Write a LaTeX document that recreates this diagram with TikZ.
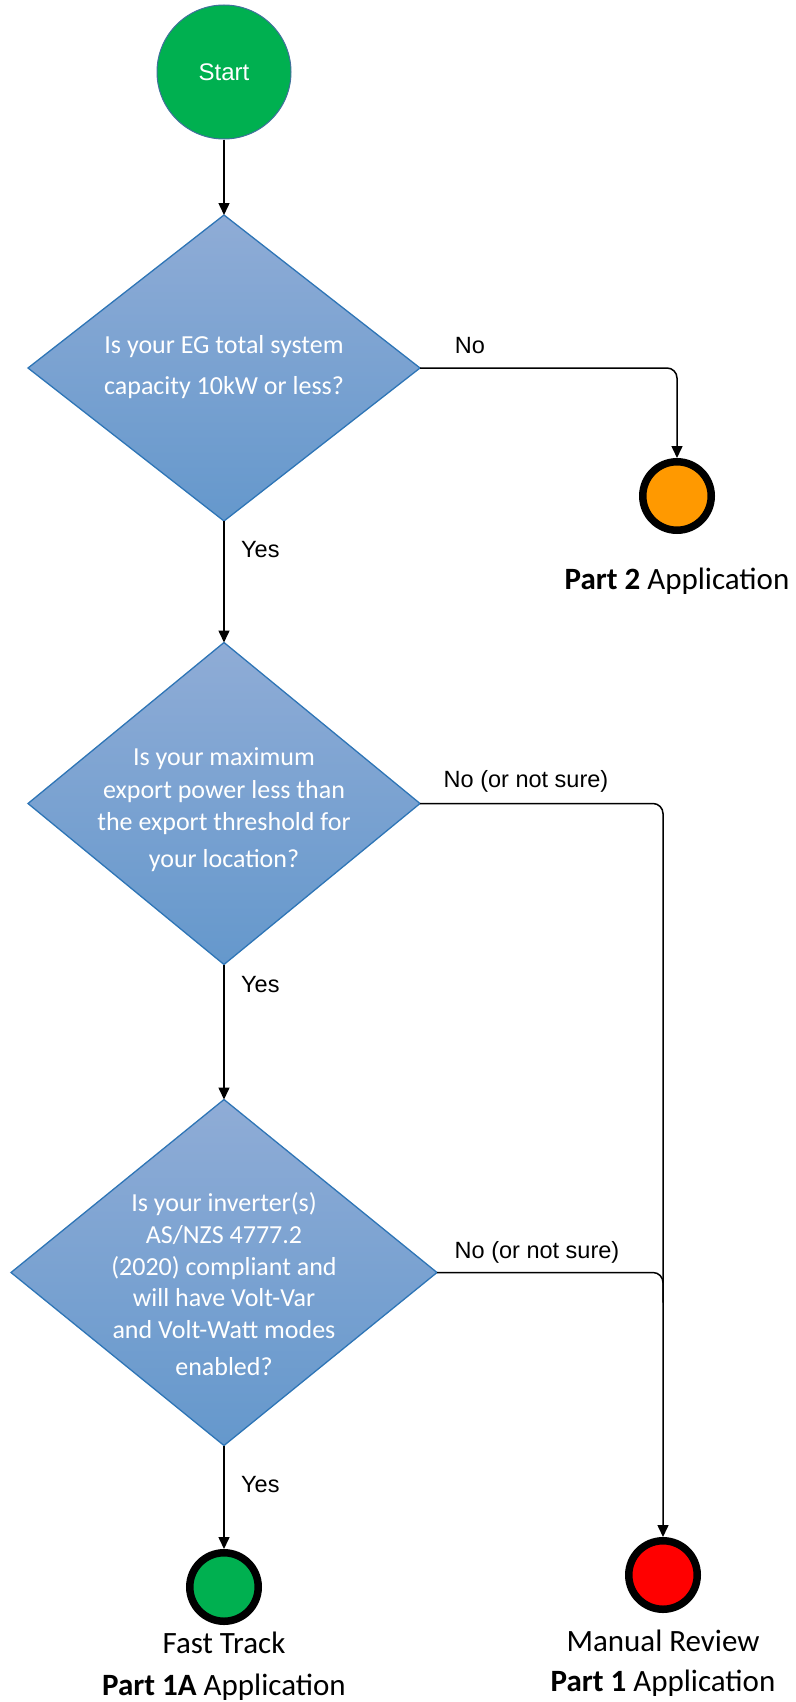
\documentclass[tikz,border=0pt]{standalone}
\usepackage{fontspec}
\setmainfont{Carlito}
\newfontfamily\labfont{Liberation Sans}
\usetikzlibrary{shapes.geometric,arrows.meta,shadings,calc}
\definecolor{dtop}{RGB}{143,172,214}
\definecolor{dbot}{RGB}{101,152,204}
\definecolor{dedge}{RGB}{46,117,182}
\definecolor{startg}{RGB}{0,176,80}
\definecolor{orng}{RGB}{255,153,0}
\definecolor{redc}{RGB}{255,0,0}
\definecolor{ringblue}{RGB}{65,113,156}
\begin{document}
\begin{tikzpicture}[x=1pt,y=-1pt,
  decision/.style={diamond, draw=dedge, line width=1.3pt, top color=dtop, bottom color=dbot, inner sep=0pt, outer sep=0pt},
  qtext/.style={text=white, align=center, font=\fontsize{26}{32}\selectfont},
  endpt/.style={circle, draw=black, line width=7.5pt, minimum size=68.5pt, inner sep=0pt, outer sep=3.75pt},
  conn/.style={line width=1.5pt, -{Triangle[length=12pt,width=11pt]}, rounded corners=10pt},
  plainconn/.style={line width=1.5pt, rounded corners=10pt},
  lab/.style={font=\labfont\fontsize{23.5}{28}\selectfont, inner sep=0pt},
  endlab/.style={align=center, inner sep=0pt}
]
\useasboundingbox (0,0) rectangle (795,1702);

% start
\node[circle, fill=startg, draw=ringblue, line width=1pt, minimum size=134pt, inner sep=0pt, outer sep=0.5pt,
      text=white, font=\labfont\fontsize{24}{28}\selectfont] (start) at (224,72) {Start};

% decisions
\node[decision, minimum width=392pt, minimum height=306pt] (d1) at (224,368) {};
\node[decision, minimum width=392pt, minimum height=322pt] (d2) at (224,803.5) {};
\node[decision, minimum width=426pt, minimum height=346pt] (d3) at (224,1272.5) {};

\node[qtext, font=\fontsize{26}{41.5}\selectfont] (q1) at (224,367) {Is your EG total system\\capacity 10kW or less?};
\node[qtext, font=\fontsize{26}{32.5}\selectfont] (q2) at (224,810) {Is your maximum\\export power less than\\the export threshold for\\[4.5pt]your location?};
\node[qtext, font=\fontsize{26}{31.7}\selectfont] (q3) at (224,1284) {Is your inverter(s)\\AS/NZS 4777.2\\(2020) compliant and\\will have Volt-Var\\and Volt-Watt modes\\[5pt]enabled?};

% end points
\node[endpt, fill=orng] (e2) at (677,496) {};
\node[endpt, fill=startg] (e1a) at (224,1587) {};
\node[endpt, fill=redc] (e1) at (663,1575) {};

% connectors
\draw[conn] (start.south) -- (d1.north);
\draw[conn] (d1.east) -- (d1.east -| e2.north) -- (e2.north);
\draw[conn] (d1.south) -- (d2.north);
\draw[conn] (d2.south) -- (d3.north);
\draw[conn] (d3.south) -- (e1a.north);
\draw[conn] (d2.east) -- (d2.east -| e1.north) -- (e1.north);
\coordinate (m3) at ($(d3.east -| e1.north)+(0,30)$);
\draw[plainconn] (d3.east) -- (d3.east -| e1.north) -- (m3);

% connector labels
\node[lab] (n1) at (470,346) {No};
\node[lab, anchor=west] (y1) at (241,550) {Yes};
\node[lab] (n2) at (526,781) {No (or not sure)};
\node[lab, anchor=west] (y2) at (241,985) {Yes};
\node[lab] (n3) at (537,1252) {No (or not sure)};
\node[lab, anchor=west] (y3) at (241,1485) {Yes};

% end labels
\node[endlab, font=\fontsize{31}{38}\selectfont] (t2) at (677,581) {\textbf{Part 2} Application};
\node[endlab, font=\fontsize{31}{42}\selectfont] (t1a) at (224,1666) {Fast Track\\\textbf{Part 1A} Application};
\node[endlab, font=\fontsize{31}{40}\selectfont] (t1) at (663,1663) {Manual Review\\\textbf{Part 1} Application};
\end{tikzpicture}
\end{document}
